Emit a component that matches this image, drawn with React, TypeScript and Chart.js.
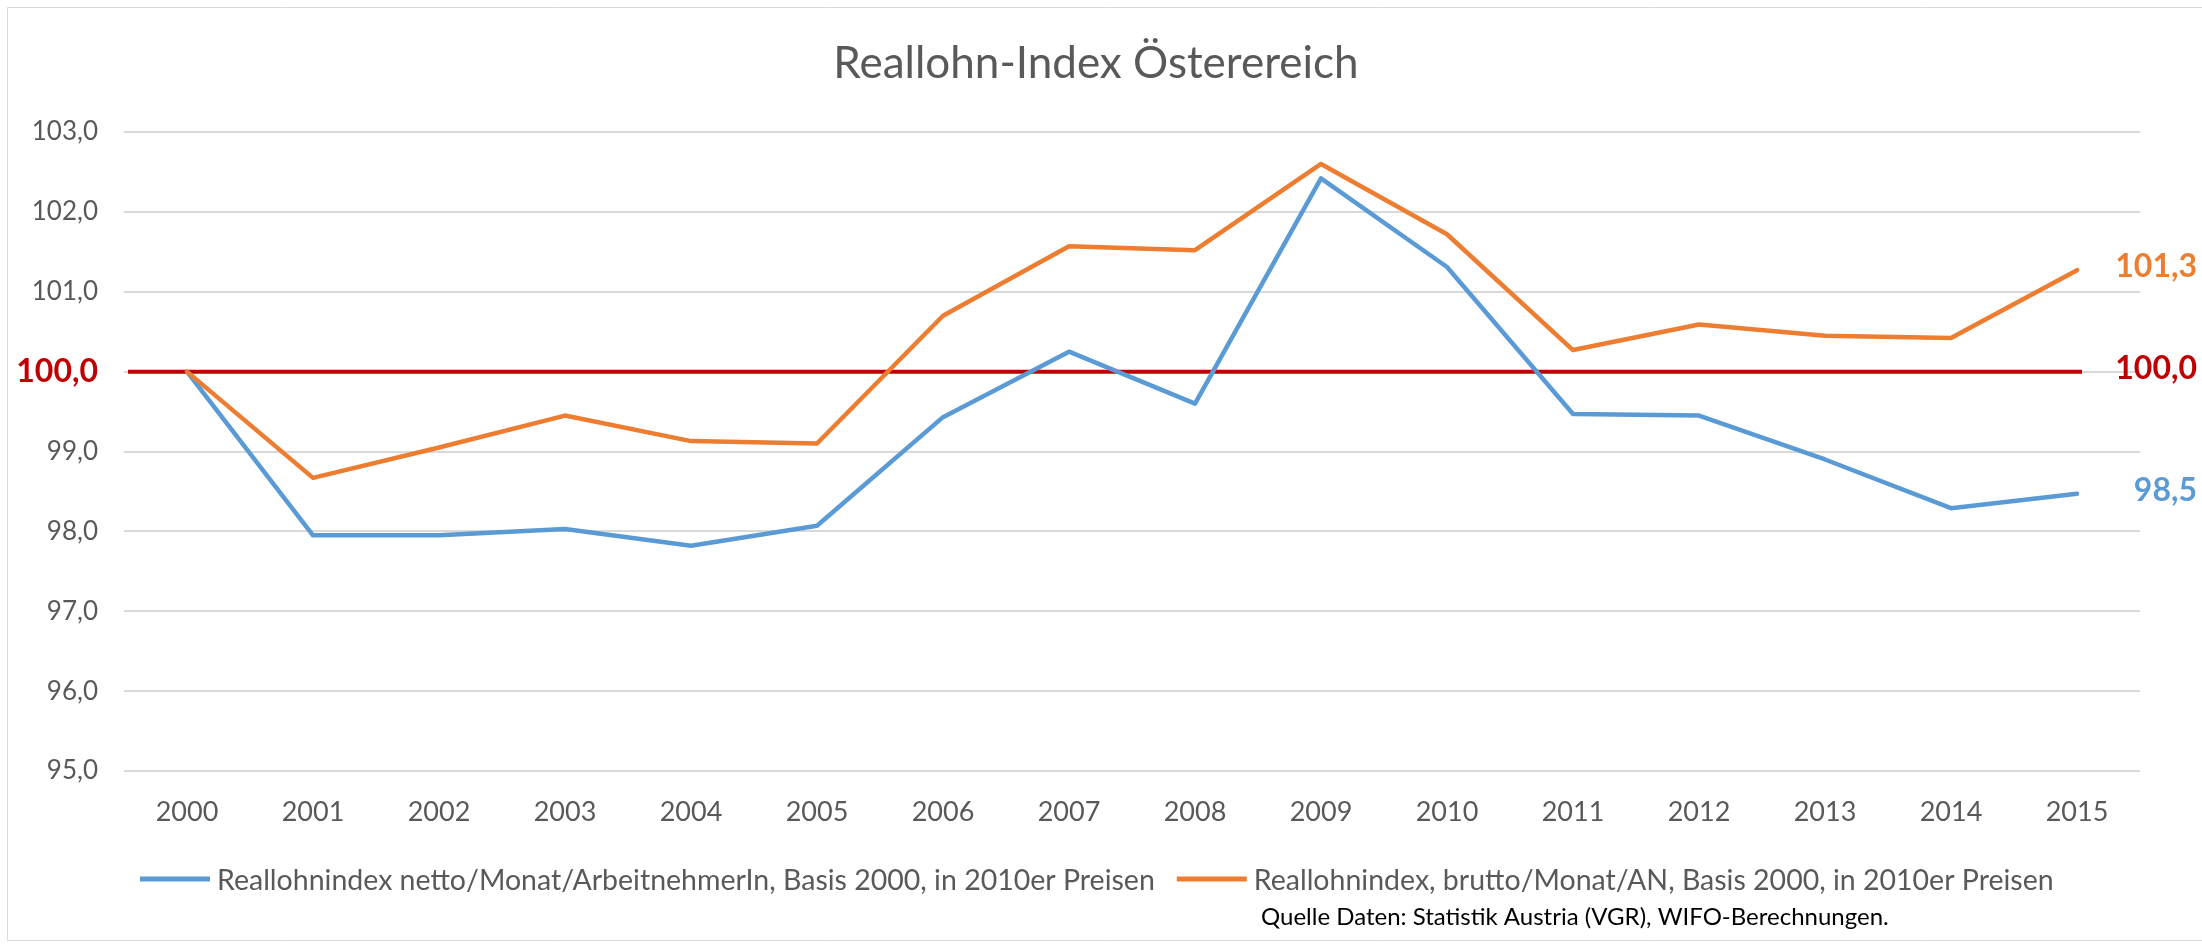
import React, { useEffect, useRef } from "react";
import { Chart, registerables } from "chart.js";

Chart.register(...registerables);

const YEARS = ["2000", "2001", "2002", "2003", "2004", "2005", "2006", "2007", "2008", "2009", "2010", "2011", "2012", "2013", "2014", "2015"];
const NETTO = [100, 97.95, 97.95, 98.03, 97.82, 98.07, 99.43, 100.25, 99.6, 102.42, 101.31, 99.47, 99.45, 98.9, 98.29, 98.47];
const BRUTTO = [100, 98.67, 99.05, 99.45, 99.13, 99.1, 100.7, 101.57, 101.52, 102.6, 101.72, 100.27, 100.59, 100.45, 100.42, 101.27];
const BASE_VALUE = 100;
const Y_MIN = 95;
const Y_MAX = 103;
const Y_STEP = 1;

const TITLE = "Reallohn-Index Österereich";
const NETTO_LABEL = "Reallohnindex netto/Monat/ArbeitnehmerIn, Basis 2000, in 2010er Preisen";
const BRUTTO_LABEL = "Reallohnindex, brutto/Monat/AN, Basis 2000, in 2010er Preisen";
const SOURCE = "Quelle Daten: Statistik Austria (VGR), WIFO-Berechnungen.";

const BLUE = "#5B9BD5";
const ORANGE = "#ED7D31";
const RED = "#C00000";
const GRAY_TEXT = "#595959";
const GRID = "#D9D9D9";
const FONT = "Lato, 'Open Sans', sans-serif";

const fmt = (v: number) => v.toFixed(1).replace(".", ",");

const decorPlugin = {
  id: "decor",
  beforeDraw(chart: any) {
    const ctx = chart.ctx;
    ctx.save();
    ctx.fillStyle = "#ffffff";
    ctx.fillRect(0, 0, chart.width, chart.height);
    ctx.strokeStyle = "#D9D9D9";
    ctx.lineWidth = 1;
    ctx.beginPath();
    ctx.moveTo(chart.width, 7.5);
    ctx.lineTo(7.5, 7.5);
    ctx.lineTo(7.5, 940.5);
    ctx.lineTo(chart.width, 940.5);
    ctx.stroke();
    ctx.restore();
  },
  beforeDatasetsDraw(chart: any) {
    const ctx = chart.ctx;
    const x = chart.scales.x;
    const y = chart.scales.y;
    const yb = y.getPixelForValue(BASE_VALUE);
    ctx.save();
    ctx.strokeStyle = RED;
    ctx.lineWidth = 4;
    ctx.beginPath();
    ctx.moveTo(chart.chartArea.left + 4, yb);
    ctx.lineTo(x.getPixelForValue(YEARS.length - 1) + 5, yb);
    ctx.stroke();
    ctx.restore();
  },
  afterDraw(chart: any) {
    const ctx = chart.ctx;
    const y = chart.scales.y;
    const ds = chart.data.datasets;
    ctx.save();
    // title
    ctx.fillStyle = GRAY_TEXT;
    ctx.font = `44px ${FONT}`;
    ctx.textAlign = "center";
    ctx.textBaseline = "alphabetic";
    ctx.fillText(TITLE, 1096, 78);

    // end labels
    ctx.font = `bold 32px ${FONT}`;
    ctx.textAlign = "right";
    ctx.textBaseline = "middle";
    const last = YEARS.length - 1;
    const ends = [
      { v: ds[1].data[last], c: ORANGE },
      { v: BASE_VALUE, c: RED },
      { v: ds[0].data[last], c: BLUE },
    ];
    ends.forEach((e) => {
      ctx.fillStyle = e.c;
      ctx.fillText(fmt(e.v), 2197, y.getPixelForValue(e.v) - 3);
    });

    // legend
    ctx.font = `28.5px ${FONT}`;
    ctx.textAlign = "left";
    ctx.textBaseline = "alphabetic";
    const sample = 70;
    const gapText = 7;
    const gapItem = 22;
    let lx = 140;
    const ly = 879;
    ds.forEach((d: any) => {
      ctx.strokeStyle = d.borderColor;
      ctx.lineWidth = 5;
      ctx.beginPath();
      ctx.moveTo(lx, ly);
      ctx.lineTo(lx + sample, ly);
      ctx.stroke();
      ctx.fillStyle = GRAY_TEXT;
      ctx.fillText(d.label, lx + sample + gapText, 890);
      lx += sample + gapText + ctx.measureText(d.label).width + gapItem;
    });

    // source
    ctx.fillStyle = "#000000";
    ctx.font = `24px ${FONT}`;
    ctx.fillText(SOURCE, 1261, 925);
    ctx.restore();
  },
};

export default function App() {
  const ref = useRef<HTMLCanvasElement | null>(null);

  useEffect(() => {
    if (!ref.current) return;
    const chart = new Chart(ref.current, {
      type: "line",
      data: {
        labels: YEARS,
        datasets: [
          {
            label: NETTO_LABEL,
            data: NETTO,
            borderColor: BLUE,
            backgroundColor: BLUE,
            borderWidth: 4.5,
            pointRadius: 0,
            tension: 0,
            borderJoinStyle: "round",
            borderCapStyle: "round",
            order: 2,
          },
          {
            label: BRUTTO_LABEL,
            data: BRUTTO,
            borderColor: ORANGE,
            backgroundColor: ORANGE,
            borderWidth: 4.5,
            pointRadius: 0,
            tension: 0,
            borderJoinStyle: "round",
            borderCapStyle: "round",
            order: 1,
          },
        ],
      },
      options: {
        responsive: false,
        animation: false,
        events: [],
        layout: { padding: { left: 0, right: 62, top: 132, bottom: 113 } },
        plugins: {
          legend: { display: false },
          title: { display: false },
          tooltip: { enabled: false },
        },
        scales: {
          x: {
            offset: true,
            grid: { display: false, drawTicks: false },
            border: { display: false },
            ticks: { color: GRAY_TEXT, font: { family: FONT, size: 27 }, padding: 25, maxRotation: 0, autoSkip: false },
            afterFit: (s: any) => {
              s.height = 60;
            },
          },
          y: {
            min: Y_MIN,
            max: Y_MAX,
            grid: { color: GRID, lineWidth: 2, drawTicks: false },
            border: { display: false },
            ticks: {
              stepSize: Y_STEP,
              padding: 26,
              callback: (v: any) => fmt(Number(v)),
              color: (c: any) => (c.tick && c.tick.value === BASE_VALUE ? RED : GRAY_TEXT),
              font: (c: any) =>
                c.tick && c.tick.value === BASE_VALUE
                  ? { family: FONT, size: 32, weight: "bold" }
                  : { family: FONT, size: 26 },
            },
            afterFit: (s: any) => {
              s.width = 124;
            },
          },
        },
      },
      plugins: [decorPlugin],
    });
    return () => chart.destroy();
  }, []);

  return (
    <div style={{ position: "fixed", left: 0, top: 0, width: 2202, height: 944, background: "#fff" }}>
      <canvas ref={ref} width={2202} height={944} style={{ display: "block", width: 2202, height: 944 }} />
    </div>
  );
}
